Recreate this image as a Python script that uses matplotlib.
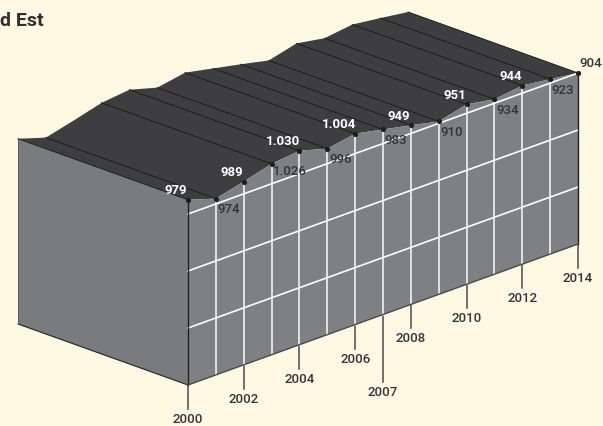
import matplotlib
matplotlib.use("Agg")
import matplotlib.pyplot as plt

years = [2000, 2001, 2002, 2003, 2004, 2005, 2006, 2007, 2008, 2009, 2010, 2011, 2012, 2013, 2014]
values = [975, 928, 965, 1005, 1021, 979, 1005, 974, 943, 910, 947, 921, 940, 921, 900]
# numbers printed on the chart
value_labels = ["979", "974", "989", "1.026", "1.030", "996", "1.004", "983", "949", "910", "951", "934", "944", "923", "904"]
tick_years = [2000, 2002, 2004, 2006, 2007, 2008, 2010, 2012, 2014]
no_ridge_years = [2002]
grid_values = [300, 600, 900]
title = "d Est"

# Oblique projection of (year, value, depth 0..1) on the page, in pixels
X0, Y0 = 188.0, 386.0
DX, DY = 27.86, -10.07
K = 0.19
DEPTH_X, DEPTH_Y = -170.0, -61.0

def proj(year, value, depth=0.0):
    t = year - years[0]
    return (X0 + DX * t + DEPTH_X * depth, Y0 + DY * t - K * value + DEPTH_Y * depth)

BG = "#FFF9E4"
TOP = "#3E3D3F"
FRONT = "#7F8083"
SIDE = "#7A7B7D"
DARK = "#232224"
TXT = "#33343A"
FONT = "Roboto"

fig = plt.figure(figsize=(6.03, 4.27), dpi=100, facecolor=BG)
ax = fig.add_axes([0, 0, 1, 1])
ax.set_xlim(0, 603)
ax.set_ylim(427, 0)
ax.axis("off")

first, last = years[0], years[-1]

# side face
side = [proj(first, 0), proj(first, values[0]), proj(first, values[0], 1), proj(first, 0, 1)]
ax.fill(*zip(*side), fc=SIDE, ec="none", zorder=1)
ax.plot(*zip(side[0], side[3]), color=DARK, lw=0.8, zorder=4)
ax.plot(*zip(side[2], side[3]), color="#555558", lw=0.6, zorder=4)

# roof
roof = [proj(y, v) for y, v in zip(years, values)] + [proj(y, v, 1) for y, v in zip(years[::-1], values[::-1])]
ax.fill(*zip(*roof), fc=TOP, ec="none", zorder=2)
for y, v in zip(years, values):
    if y not in no_ridge_years:
        ax.plot(*zip(proj(y, v), proj(y, v, 1)), color="#1E1D1F", lw=0.7, zorder=3)

# front face
front = [proj(first, 0)] + [proj(y, v) for y, v in zip(years, values)] + [proj(last, 0)]
ax.fill(*zip(*front), fc=FRONT, ec="none", zorder=2)

# grid
for g in grid_values:
    ax.plot(*zip(proj(first, g), proj(last, g)), color="white", lw=1.2, zorder=3)
for y, v in zip(years[1:-1], values[1:-1]):
    ax.plot(*zip(proj(y, 0), proj(y, v)), color="#F2F2F2", lw=1.2, zorder=3)
for y, v in ((first, values[0]), (last, values[-1])):
    ax.plot(*zip(proj(y, 0), proj(y, v)), color=DARK, lw=1.0, zorder=4)
ax.plot(*zip(proj(first, 0), proj(last, 0)), color="#4A4A4C", lw=1.0, zorder=4)

# dots
ax.scatter(*zip(*[proj(y, v) for y, v in zip(years, values)]), s=14, color="#1E1D1F", lw=0, zorder=5)

# value labels: white above the roof line on even steps, dark below on odd ones
for i, (y, v, s) in enumerate(zip(years, values, value_labels)):
    x, yy = proj(y, v)
    wide = len(s) > 3
    if y == last:
        ax.text(x + 13, yy - 11, s, color=TXT, fontsize=9.5, family=FONT, weight="medium", ha="center", va="center", zorder=6)
    elif i % 2 == 0 and y != 2003 or y in (2004,):
        dx = -16 if wide else -12
        ax.text(x + dx, yy - 10, s, color="white", fontsize=9.5, family=FONT, weight="bold", ha="center", va="center", zorder=6)
    else:
        dx, dy = (18, 7) if wide else (13, 10)
        ax.text(x + dx, yy + dy, s, color=TXT, fontsize=9.5, family=FONT, weight="medium", ha="center", va="center", zorder=6)

# year ticks: 2007 hangs lower than the others
for y in tick_years:
    x, base = proj(y, 0)
    length = 67 if y == 2007 else 24
    ax.plot([x, x], [base, base + length], color="#4A4A4C", lw=1.1, zorder=1)
    ax.text(x, base + length + 9.5, str(y), color=TXT, fontsize=9.5, family=FONT, weight="medium", ha="center", va="center")

ax.text(44, 21, title, color="#2E2F35", fontsize=14, family=FONT, weight="bold", ha="right", va="center")

fig.savefig("out.png", dpi=100, facecolor=BG)
